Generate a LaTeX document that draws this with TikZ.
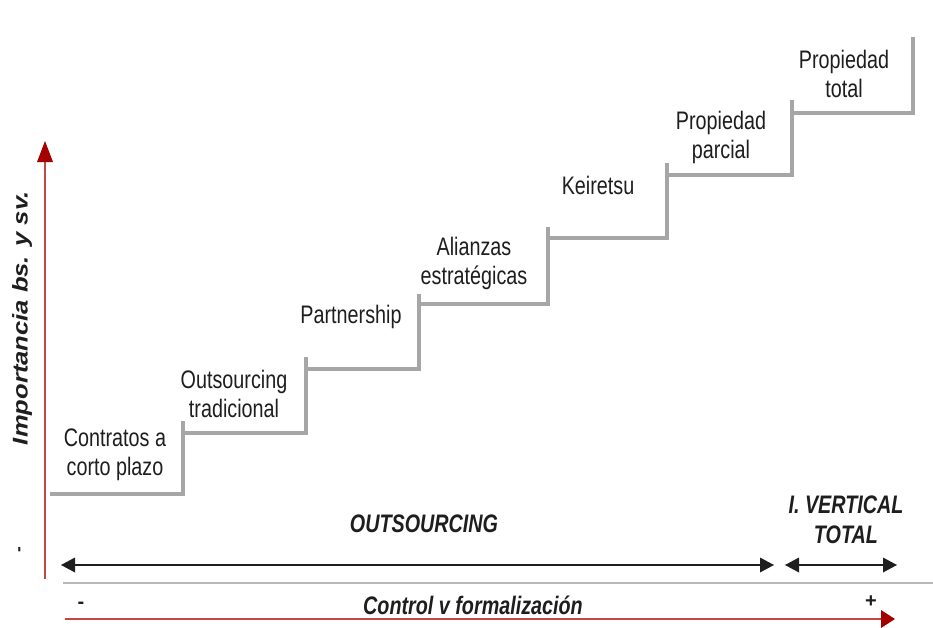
\documentclass[tikz,border=0pt]{standalone}
\usepackage{fontspec}
\setmainfont{Liberation Sans}
\newfontfamily\narrowsans[FakeStretch=0.78]{Liberation Sans}
\newfontfamily\widesans[FakeStretch=1.2]{Liberation Sans}

\definecolor{steplinegray}{RGB}{166,166,166}
\definecolor{sepgray}{RGB}{185,185,185}
\definecolor{inkdark}{RGB}{30,30,30}
\definecolor{axisred}{RGB}{196,70,70}
\definecolor{tipred}{RGB}{165,0,0}

\tikzset{every picture/.style={line width=0.75pt}}
\tikzset{
  stepline/.style={draw=steplinegray, line width=2.3pt},
  steplabel/.style={inner sep=0.75pt, align=center, text=inkdark,
    font=\narrowsans\fontsize{19}{21.75}\selectfont},
  rangelabel/.style={inner sep=0.75pt, align=center, text=inkdark,
    font=\narrowsans\bfseries\itshape\fontsize{19}{22.5}\selectfont},
  rangeline/.style={draw=inkdark, line width=1.7pt},
  axisline/.style={draw=axisred, line width=1.6pt},
}

\begin{document}
\begin{tikzpicture}[x=0.75pt,y=0.75pt,yscale=-1,xscale=1]
\useasboundingbox (0,0) rectangle (933,628);

%Steps
\draw [stepline] (50,494) -- (183,494) -- (183,421) ;
\draw [stepline] (183,433) -- (306,433) -- (306,357) ;
\draw [stepline] (306,369) -- (419,369) -- (419,294) ;
\draw [stepline] (419,304) -- (548,304) -- (548,227) ;
\draw [stepline] (548,238) -- (667,238) -- (667,163) ;
\draw [stepline] (667,175) -- (792,175) -- (792,100) ;
\draw [stepline] (792,113) -- (913,113) -- (913,37) ;

% Step labels
\node (contratos) at (115,455) [steplabel] {Contratos a\\corto plazo};
\node (tradicional) at (234,394) [steplabel] {Outsourcing\\tradicional};
\node (partnership) at (351,317) [steplabel] {Partnership};
\node (alianzas) at (474,263) [steplabel] {Alianzas\\estratégicas};
\node (keiretsu) at (598,185) [steplabel] {Keiretsu};
\node (parcial) at (721,137) [steplabel] {Propiedad\\parcial};
\node (total) at (844,74) [steplabel] {Propiedad\\total};

%Vertical axis
\coordinate (yfoot) at (45,579);
\coordinate (ytip) at (45,141);
\draw [axisline, shorten >=6] (yfoot) -- (ytip) ;
\draw [shift={(ytip)}, rotate=90] [fill=tipred][line width=0.08] [draw opacity=0] (21,-8) -- (0,0) -- (21,8) -- cycle ;
\node (importancia) at (22,318) [inner sep=0.75pt, rotate=90, text=inkdark, font=\widesans\bfseries\itshape\fontsize{16}{19}\selectfont] {Importancia bs. y sv.};
\node (menosy) at (21,550) [inner sep=0.75pt, rotate=90, text=inkdark, font=\bfseries\fontsize{13}{14}\selectfont] {-};

%Outsourcing range
\coordinate (outleft) at (61,565);
\coordinate (outright) at (774,565);
\draw [rangeline, shorten >=6, shorten <=6] (outleft) -- (outright) ;
\draw [shift={(outleft)}, rotate=0] [fill=inkdark][line width=0.08] [draw opacity=0] (14,-7.5) -- (0,0) -- (14,7.5) -- cycle ;
\draw [shift={(outright)}, rotate=180] [fill=inkdark][line width=0.08] [draw opacity=0] (14,-7.5) -- (0,0) -- (14,7.5) -- cycle ;
\node (outsourcing) at (424,524) [rangelabel] {OUTSOURCING};

%Vertical integration range
\coordinate (ivleft) at (785,565);
\coordinate (ivright) at (897,565);
\draw [rangeline, shorten >=6, shorten <=6] (ivleft) -- (ivright) ;
\draw [shift={(ivleft)}, rotate=0] [fill=inkdark][line width=0.08] [draw opacity=0] (14,-7.5) -- (0,0) -- (14,7.5) -- cycle ;
\draw [shift={(ivright)}, rotate=180] [fill=inkdark][line width=0.08] [draw opacity=0] (14,-7.5) -- (0,0) -- (14,7.5) -- cycle ;
\node (vertical) at (846,520) [rangelabel] {I. VERTICAL\\TOTAL};

%Separator
\coordinate (sepleft) at (63,583);
\coordinate (sepright) at (933,583);
\draw [draw=sepgray, line width=1.2pt] (sepleft) -- (sepright) ;

%Horizontal axis
\coordinate (xfoot) at (65,619);
\coordinate (xtip) at (895,619);
\draw [axisline, shorten >=6] (xfoot) -- (xtip) ;
\draw [shift={(xtip)}, rotate=180] [fill=tipred][line width=0.08] [draw opacity=0] (14,-9) -- (0,0) -- (14,9) -- cycle ;
\node (control) at (473,605) [rangelabel] {Control v formalización};
\node (menosx) at (81,605) [inner sep=0.75pt, text=inkdark, font=\bfseries\fontsize{15}{15}\selectfont] {-};
\node (masx) at (871,602) [inner sep=0.75pt, text=inkdark, font=\bfseries\fontsize{15}{15}\selectfont] {+};
\end{tikzpicture}
\end{document}
